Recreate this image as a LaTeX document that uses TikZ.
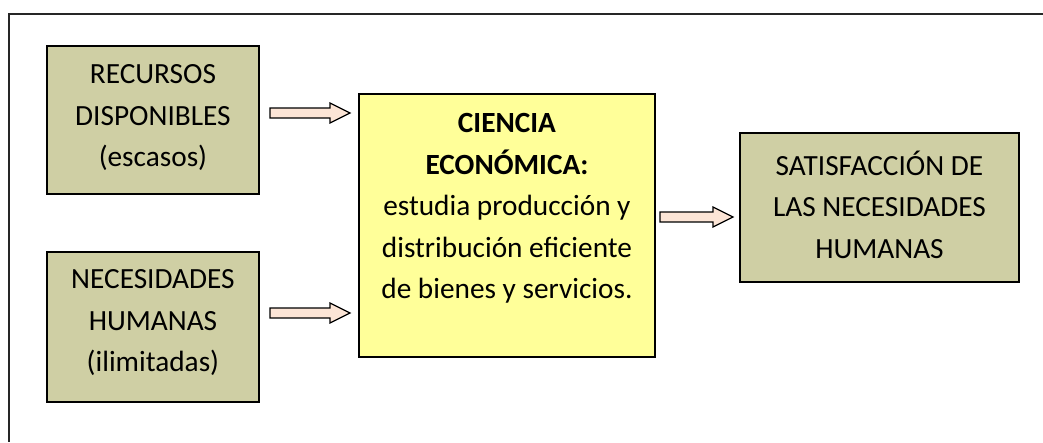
\documentclass[tikz,border=0pt]{standalone}
\usepackage{fontspec}
\setmainfont{Carlito}
\usetikzlibrary{calc,shadows}
\definecolor{olivefill}{RGB}{207,207,164}
\definecolor{yellowfill}{RGB}{255,255,153}
\definecolor{pinkfill}{RGB}{252,229,214}
\newcommand{\blockarrow}[2]{%
  \draw[blockarr] let \p1=(#1), \p2=(#2) in
    (\x1,\y1+5pt) -- (\x2-20pt,\y1+5pt) -- (\x2-20pt,\y1+10pt) -- (\x2,\y1)
    -- (\x2-20pt,\y1-10pt) -- (\x2-20pt,\y1-5pt) -- (\x1,\y1-5pt) -- cycle;}
\begin{document}
\begin{tikzpicture}[x=1pt,y=-1pt,
  box/.style={draw=black, line width=1.9pt, inner sep=0pt, anchor=north west,
    drop shadow={shadow xshift=1.2pt, shadow yshift=-1.2pt, fill=black!45, opacity=1}},
  olivebox/.style={box, fill=olivefill},
  yellowbox/.style={box, fill=yellowfill},
  txt/.style={align=center, inner sep=0pt, font=\fontsize{29.3}{41.5}\selectfont},
  blockarr/.style={draw=black, line width=1.2pt, fill=pinkfill, line join=miter},
  frame/.style={draw=black!85, line width=1.4pt}]
\useasboundingbox (0,0) rectangle (1043,442);
% frame
\coordinate (ftr) at (1043,14);
\coordinate (ftl) at (9,14);
\coordinate (fbl) at (9,442);
\draw[frame] (ftr) -- (ftl) -- (fbl);
% boxes
\node[olivebox, minimum width=212pt, minimum height=148pt] (rec) at (46,45) {};
\node[olivebox, minimum width=212pt, minimum height=150pt] (nec) at (46,251) {};
\node[yellowbox, minimum width=296pt, minimum height=263pt] (cie) at (358,93) {};
\node[olivebox, minimum width=279pt, minimum height=149pt] (sat) at (739,132) {};
% texts
\node[txt] (rect) at ($(rec.center)+(0,-2)$) {RECURSOS\\DISPONIBLES\\(escasos)};
\node[txt] (nect) at ($(nec.center)+(0,-4)$) {NECESIDADES\\HUMANAS\\(ilimitadas)};
\node[txt] (satt) at ($(sat.center)+(0,-3)$) {SATISFACCIÓN DE\\LAS NECESIDADES\\HUMANAS};
\node[txt] (ciet) at ($(cie.center)+(0,-17)$) {\textbf{CIENCIA}\\\textbf{ECONÓMICA:}\\estudia producción y\\distribución eficiente\\de bienes y servicios.};
% arrows
\coordinate (a1s) at (270,113);
\coordinate (a1e) at (350,113);
\coordinate (a2s) at (270,313);
\coordinate (a2e) at (350,313);
\coordinate (a3s) at (660,217);
\coordinate (a3e) at (733,217);
\blockarrow{a1s}{a1e}
\blockarrow{a2s}{a2e}
\blockarrow{a3s}{a3e}
\end{tikzpicture}
\end{document}
